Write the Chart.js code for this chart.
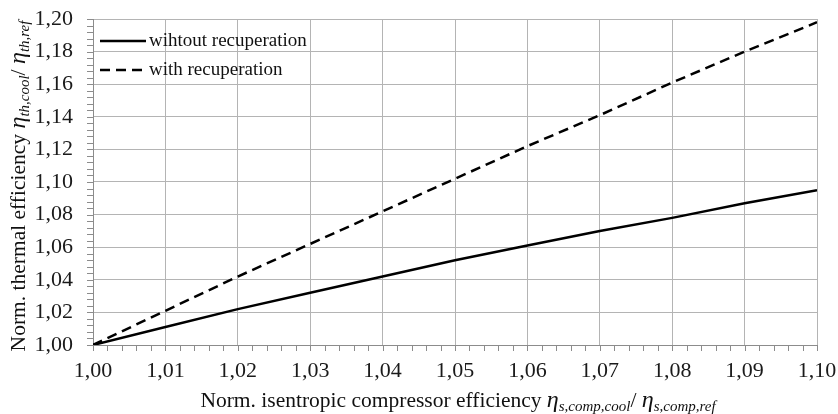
<!DOCTYPE html>
<html>
<head>
<meta charset="utf-8">
<script src="https://cdn.jsdelivr.net/npm/chart.js@4"></script>
<style>
  html, body { margin: 0; padding: 0; background: #fff; }
  #wrap { width: 838px; height: 414px; }
</style>
</head>
<body>
<div id="wrap"><canvas id="myChart" width="838" height="414"></canvas></div>
<script>
  // Datos
  var xValues = [1.00, 1.01, 1.02, 1.03, 1.04, 1.05, 1.06, 1.07, 1.08, 1.09, 1.10];
  var withoutRecup = [1.000, 1.011, 1.022, 1.032, 1.042, 1.052, 1.061, 1.070, 1.078, 1.087, 1.095];
  var withRecup = [1.000, 1.021, 1.042, 1.062, 1.082, 1.102, 1.122, 1.141, 1.161, 1.180, 1.198];
  var seriesLabels = ['wihtout recuperation', 'with recuperation'];

  var serif = '"Liberation Serif", "Times New Roman", serif';
  var axisGray = '#8c8c8c';

  function toPoints(ys) {
    return xValues.map(function (x, i) { return { x: x, y: ys[i] }; });
  }
  function fmt(v) { return v.toFixed(2).replace('.', ','); }

  // Dibuja texto con subíndices
  function drawRuns(ctx, runs, cx, cy) {
    var total = 0;
    runs.forEach(function (r) { ctx.font = r.f; r.w = ctx.measureText(r.t).width; total += r.w; });
    var x = cx - total / 2;
    runs.forEach(function (r) {
      ctx.font = r.f;
      ctx.fillText(r.t, x, cy + (r.dy || 0));
      x += r.w;
    });
  }

  var extrasPlugin = {
    id: 'extras',
    afterDraw: function (chart) {
      var ctx = chart.ctx;
      var a = chart.chartArea;
      var xs = chart.scales.x, ys = chart.scales.y;
      ctx.save();
      // marcas menores y mayores
      ctx.strokeStyle = axisGray;
      ctx.lineWidth = 1;
      ctx.beginPath();
      for (var i = 0; i <= 50; i++) {
        var px = Math.round(xs.getPixelForValue(1 + i * 0.002)) + 0.5;
        ctx.moveTo(px, a.bottom);
        ctx.lineTo(px, a.bottom + 6);
      }
      for (var j = 0; j <= 50; j++) {
        var py = Math.round(ys.getPixelForValue(1 + j * 0.004)) + 0.5;
        ctx.moveTo(a.left - 6, py);
        ctx.lineTo(a.left, py);
      }
      ctx.stroke();

      // leyenda dentro del área
      var legendY = [a.top + 22, a.top + 51];
      chart.data.datasets.forEach(function (ds, k) {
        ctx.strokeStyle = ds.borderColor;
        ctx.lineWidth = ds.borderWidth;
        ctx.setLineDash(ds.borderDash || []);
        ctx.beginPath();
        ctx.moveTo(a.left + 7, legendY[k]);
        ctx.lineTo(a.left + 53, legendY[k]);
        ctx.stroke();
        ctx.setLineDash([]);
        ctx.fillStyle = '#111';
        ctx.font = '19px ' + serif;
        ctx.textAlign = 'left';
        ctx.textBaseline = 'middle';
        ctx.fillText(ds.label, a.left + 56, legendY[k]);
      });

      // títulos de ejes
      ctx.fillStyle = '#111';
      ctx.textBaseline = 'alphabetic';
      ctx.textAlign = 'left';
      var main = '21.5px ' + serif, eta = 'italic 24px ' + serif, sub = 'italic 15px ' + serif;
      drawRuns(ctx, [
        { t: 'Norm. isentropic compressor efficiency ', f: main },
        { t: 'η', f: eta },
        { t: 's,comp,cool', f: sub, dy: 4 },
        { t: '/ ', f: main },
        { t: 'η', f: eta },
        { t: 's,comp,ref', f: sub, dy: 4 }
      ], (a.left + a.right) / 2 + 3, 407);

      ctx.translate(25, (a.top + a.bottom) / 2 + 4);
      ctx.rotate(-Math.PI / 2);
      drawRuns(ctx, [
        { t: 'Norm. thermal efficiency ', f: main },
        { t: 'η', f: eta },
        { t: 'th,cool', f: sub, dy: 4 },
        { t: '/ ', f: main },
        { t: 'η', f: eta },
        { t: 'th,ref', f: sub, dy: 4 }
      ], 0, 0);
      ctx.restore();
    }
  };

  var chartData = {
    datasets: [{
      label: seriesLabels[0],
      data: toPoints(withoutRecup),
      borderColor: '#000',
      borderWidth: 2.5,
      pointRadius: 0,
      fill: false
    }, {
      label: seriesLabels[1],
      data: toPoints(withRecup),
      borderColor: '#000',
      borderWidth: 2.5,
      borderDash: [10, 6],
      pointRadius: 0,
      fill: false
    }]
  };

  var config = {
    type: 'line',
    data: chartData,
    options: {
      responsive: false,
      animation: false,
      layout: { padding: { top: 19, right: 21, left: 0, bottom: 0 } },
      plugins: { legend: { display: false }, tooltip: { enabled: false } },
      scales: {
        x: {
          type: 'linear',
          min: 1.0,
          max: 1.1,
          afterFit: function (s) { s.height = 69; s.paddingLeft = 0; s.paddingRight = 0; },
          ticks: {
            stepSize: 0.01,
            callback: function (v) { return fmt(v); },
            color: '#1a1a1a',
            font: { family: serif, size: 22 },
            padding: 13,
            maxRotation: 0,
            autoSkip: false
          },
          grid: { color: '#b4b4b4', drawTicks: false },
          border: { color: axisGray }
        },
        y: {
          min: 1.0,
          max: 1.2,
          afterFit: function (s) { s.width = 93; s.paddingTop = 0; s.paddingBottom = 0; },
          ticks: {
            stepSize: 0.02,
            callback: function (v) { return fmt(v); },
            color: '#1a1a1a',
            font: { family: serif, size: 22 },
            padding: 20,
            autoSkip: false
          },
          grid: { color: '#b4b4b4', drawTicks: false },
          border: { color: axisGray }
        }
      }
    },
    plugins: [extrasPlugin]
  };

  var ctx = document.getElementById('myChart').getContext('2d');
  new Chart(ctx, config);
</script>
</body>
</html>
